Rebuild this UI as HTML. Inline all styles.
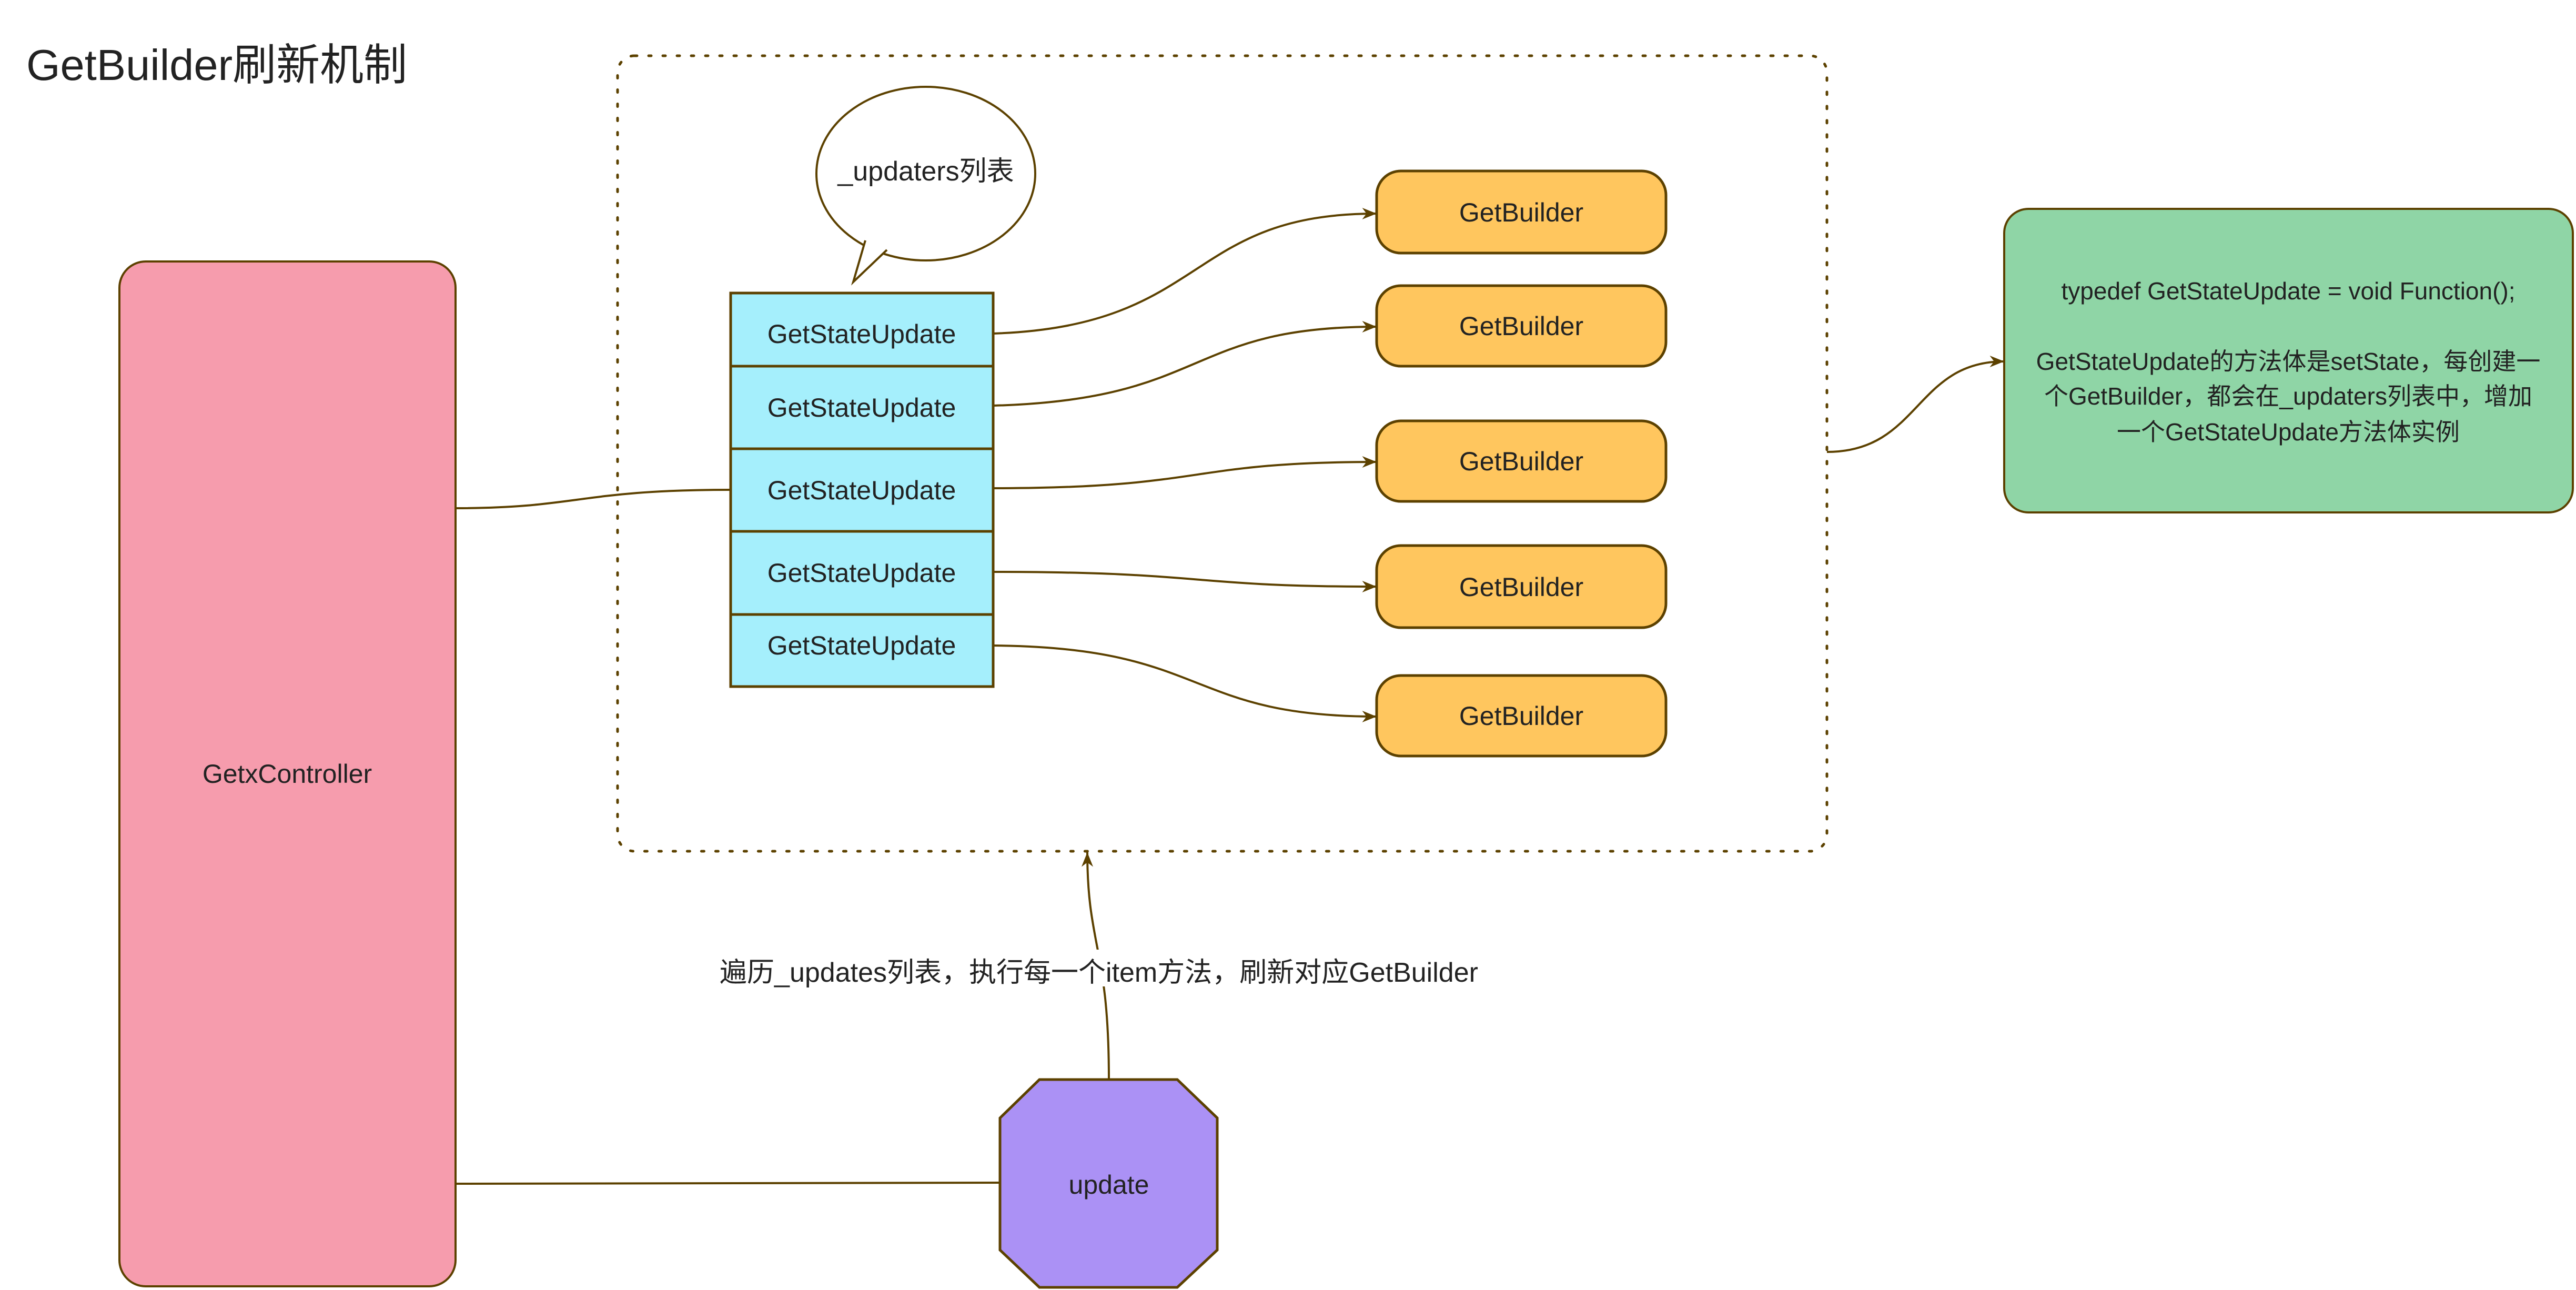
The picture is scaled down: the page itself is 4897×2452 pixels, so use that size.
<!DOCTYPE html>
<html><head><meta charset="utf-8"><style>
html,body{margin:0;padding:0;background:#fff;}
svg{display:block;}
text{font-family:"Liberation Sans","Noto Sans CJK SC",sans-serif;fill:#222;}
</style></head><body>
<svg width="4897" height="2452" viewBox="0 0 4897 2452" xmlns="http://www.w3.org/2000/svg">
<defs>
<marker id="a" viewBox="0 0 10 8" refX="10" refY="4" markerWidth="28" markerHeight="22" markerUnits="userSpaceOnUse" orient="auto"><path d="M0,0 L10,4 L0,8 L3,4 Z" fill="#5c4100"/></marker>
</defs>
<text x="50" y="152" font-size="83">GetBuilder刷新机制</text>

<!-- dotted container -->
<rect x="1174" y="106" width="2299" height="1512" rx="32" fill="none" stroke="#5c4100" stroke-width="5" stroke-dasharray="5 22" stroke-linecap="round"/>

<!-- pink controller -->
<rect x="227" y="497" width="639" height="1948" rx="50" fill="#f69cad" stroke="#5c4100" stroke-width="4"/>
<text x="546" y="1488" font-size="50" text-anchor="middle">GetxController</text>

<!-- speech bubble -->
<ellipse cx="1760" cy="330" rx="208" ry="165" fill="#fff" stroke="#5c4100" stroke-width="4"/>
<polygon points="1642,440 1645,457 1622,536 1686,475 1700,470" fill="#fff" stroke="none"/>
<polyline points="1645,457 1622,536 1686,475" fill="none" stroke="#5c4100" stroke-width="4"/>
<text x="1760" y="343" font-size="52" text-anchor="middle">_updaters列表</text>

<!-- stack -->
<g fill="#a5effc" stroke="#5c4100" stroke-width="5">
<rect x="1389" y="557" width="499" height="139"/>
<rect x="1389" y="696" width="499" height="157"/>
<rect x="1389" y="853" width="499" height="157"/>
<rect x="1389" y="1010" width="499" height="158"/>
<rect x="1389" y="1168" width="499" height="137"/>
</g>
<g font-size="50" text-anchor="middle">
<text x="1638" y="652">GetStateUpdate</text>
<text x="1638" y="792">GetStateUpdate</text>
<text x="1638" y="949">GetStateUpdate</text>
<text x="1638" y="1106">GetStateUpdate</text>
<text x="1638" y="1244">GetStateUpdate</text>
</g>

<!-- GetBuilders -->
<g fill="#ffc65e" stroke="#5c4100" stroke-width="5">
<rect x="2617" y="325" width="550" height="156" rx="46"/>
<rect x="2617" y="543" width="550" height="153" rx="46"/>
<rect x="2617" y="800" width="550" height="153" rx="46"/>
<rect x="2617" y="1037" width="550" height="156" rx="46"/>
<rect x="2617" y="1284" width="550" height="153" rx="46"/>
</g>
<g font-size="50" text-anchor="middle">
<text x="2892" y="421">GetBuilder</text>
<text x="2892" y="637">GetBuilder</text>
<text x="2892" y="894">GetBuilder</text>
<text x="2892" y="1133">GetBuilder</text>
<text x="2892" y="1378">GetBuilder</text>
</g>

<!-- connectors -->
<g fill="none" stroke="#5c4100" stroke-width="4">
<path d="M866,966 C1100,966 1100,931 1388,931"/>
<path d="M1888,634 C2300,620 2250,406 2617,406" marker-end="url(#a)"/>
<path d="M1888,771 C2300,760 2250,621 2617,621" marker-end="url(#a)"/>
<path d="M1888,928 C2300,928 2250,878 2617,878" marker-end="url(#a)"/>
<path d="M1888,1087 C2300,1087 2250,1115 2617,1115" marker-end="url(#a)"/>
<path d="M1888,1227 C2300,1230 2250,1362 2617,1362" marker-end="url(#a)"/>
<path d="M3473,859 C3650,859 3640,687 3810,687" marker-end="url(#a)"/>
<path d="M866,2250 L1901,2248"/>
<path d="M2108,2052 C2108,1800 2067,1800 2067,1620" marker-end="url(#a)"/>
</g>

<!-- label -->
<rect x="1335" y="1805" width="1510" height="70" fill="#fff"/>
<text x="2089" y="1866" font-size="52" text-anchor="middle">遍历_updates列表，执行每一个item方法，刷新对应GetBuilder</text>

<!-- octagon -->
<polygon points="1976,2052 2238,2052 2314,2125 2314,2376 2238,2447 1976,2447 1901,2376 1901,2125" fill="#ab91f5" stroke="#5c4100" stroke-width="5"/>
<text x="2108" y="2269" font-size="50" text-anchor="middle">update</text>

<!-- green note -->
<rect x="3810" y="397" width="1081" height="577" rx="46" fill="#8fd5a6" stroke="#5c4100" stroke-width="4"/>
<g font-size="46" text-anchor="middle">
<text x="4350" y="569">typedef GetStateUpdate = void Function();</text>
<text x="4350" y="703">GetStateUpdate的方法体是setState，每创建一</text>
<text x="4350" y="769">个GetBuilder，都会在_updaters列表中，增加</text>
<text x="4350" y="837">一个GetStateUpdate方法体实例</text>
</g>
</svg>
</body></html>
